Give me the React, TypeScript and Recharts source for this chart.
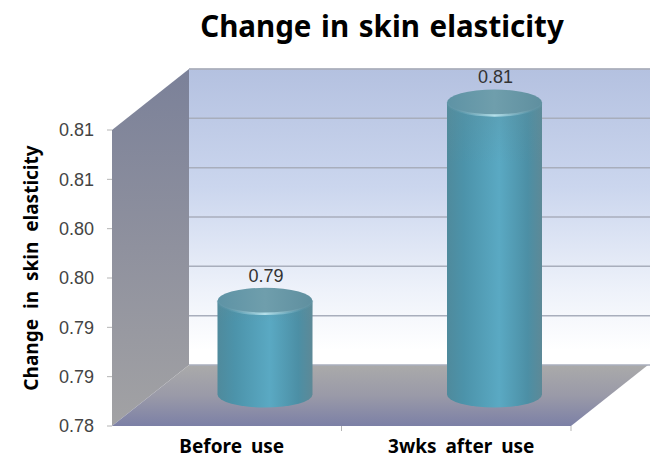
import { Bar, BarChart, CartesianGrid, LabelList, XAxis, YAxis } from 'recharts';

const categories = ['Before use', '3wks after use'];
const elasticity = [0.7896, 0.8097];
const valueLabels = ['0.79', '0.81'];
const yTicks = [0.78, 0.785, 0.79, 0.795, 0.8, 0.805, 0.81];
const yTickLabels = ['0.78', '0.79', '0.79', '0.80', '0.80', '0.81', '0.81'];

const chartData = categories.map((name, i) => ({ name, value: elasticity[i], label: valueLabels[i] }));

const WIDTH = 650;
const HEIGHT = 459;
// front plane of the fake 3D box
const LEFT = 112;
const RIGHT = 571;
const TOP = 130;
const BOTTOM = 426;
// how far the back wall sits from the front plane
const DEPTH_X = 77;
const DEPTH_Y = -61;
const RY = 13;

function Cylinder({ x, y, width, height }: any) {
  // bars stand half way into the box
  const left = x + DEPTH_X / 2;
  const right = left + width;
  const top = y + DEPTH_Y / 2;
  const base = top + height - 1;
  const rx = width / 2;
  const cx = left + rx;
  return (
    <g>
      <path
        d={`M${left},${top} L${left},${base} A${rx},${RY} 0 0 0 ${right},${base} L${right},${top} Z`}
        fill="url(#cylBody)"
      />
      <path
        d={`M${left},${top} L${left},${base} A${rx},${RY} 0 0 0 ${right},${base} L${right},${top} Z`}
        fill="url(#cylShade)"
      />
      <ellipse cx={cx} cy={top} rx={rx} ry={RY} fill="url(#cylTop)" />
      <path d={`M${left},${top} A${rx},${RY} 0 0 0 ${right},${top}`} fill="none" stroke="url(#cylRim)" strokeWidth={2.5} />
    </g>
  );
}

function BarValue({ x, y, width, value }: any) {
  return (
    <text
      x={x + width / 2 + DEPTH_X / 2 + 1}
      y={y + DEPTH_Y / 2 - 19}
      textAnchor="middle"
      fontFamily="Liberation Sans"
      fontSize={18}
      fill="#333"
    >
      {value}
    </text>
  );
}

function backLine({ x1, y1, x2, y2, key }: any) {
  return (
    <line
      key={key}
      x1={x1 + DEPTH_X}
      y1={y1 + DEPTH_Y}
      x2={x2 + DEPTH_X + 2}
      y2={y2 + DEPTH_Y}
      stroke="#a8aebc"
      strokeWidth={1.5}
    />
  );
}

// walls sit in their own svg under the transparent chart
function Box() {
  const backX = LEFT + DEPTH_X;
  const backTop = TOP + DEPTH_Y;
  const backBottom = BOTTOM + DEPTH_Y;
  return (
    <svg width={WIDTH} height={HEIGHT} style={{ position: 'absolute', left: 0, top: 0 }}>
      <defs>
        <linearGradient id="backWall" x1="0" y1="0" x2="0" y2="1">
          <stop offset="0" stopColor="#b4c1e0" />
          <stop offset="0.4" stopColor="#cbd6ee" />
          <stop offset="0.75" stopColor="#eef2fa" />
          <stop offset="0.95" stopColor="#ffffff" />
        </linearGradient>
        <linearGradient id="sideWall" x1="0" y1="0" x2="0" y2="1">
          <stop offset="0" stopColor="#7b8199" />
          <stop offset="0.5" stopColor="#8f919e" />
          <stop offset="1" stopColor="#a2a2a4" />
        </linearGradient>
        <linearGradient id="floor" x1="0" y1="0" x2="0" y2="1">
          <stop offset="0" stopColor="#aaaaaa" />
          <stop offset="0.5" stopColor="#9a9aa8" />
          <stop offset="1" stopColor="#7c80a6" />
        </linearGradient>
      </defs>
      <polygon
        points={`${backX},${backTop} ${WIDTH},${backTop} ${WIDTH},${backBottom} ${backX},${backBottom}`}
        fill="url(#backWall)"
      />
      <line x1={backX} y1={backTop} x2={WIDTH} y2={backTop} stroke="#b0b0b0" />
      <polygon
        points={`${LEFT},${TOP} ${backX},${backTop} ${backX},${backBottom} ${LEFT},${BOTTOM}`}
        fill="url(#sideWall)"
      />
      <polygon
        points={`${LEFT},${BOTTOM} ${backX},${backBottom} ${RIGHT + DEPTH_X},${backBottom} ${RIGHT},${BOTTOM}`}
        fill="url(#floor)"
      />
      <line x1={(LEFT + RIGHT) / 2} y1={BOTTOM} x2={(LEFT + RIGHT) / 2} y2={BOTTOM + 5} stroke="#b5b5b5" />
      <line x1={RIGHT} y1={BOTTOM} x2={RIGHT} y2={BOTTOM + 5} stroke="#b5b5b5" />
    </svg>
  );
}

export default function App() {
  return (
    <div style={{ position: 'absolute', left: 0, top: 0, width: WIDTH, height: HEIGHT }}>
      <Box />
      <div style={{ position: 'absolute', left: 0, top: 0 }}>
        <BarChart
          width={WIDTH}
          height={HEIGHT}
          data={chartData}
          margin={{ top: TOP, right: WIDTH - RIGHT, bottom: 0, left: 52 }}
          barSize={95}
        >
          <defs>
            <linearGradient id="cylBody" x1="0" y1="0" x2="1" y2="0">
              <stop offset="0" stopColor="#4f8a9c" />
              <stop offset="0.18" stopColor="#4c93aa" />
              <stop offset="0.55" stopColor="#5aa9c3" />
              <stop offset="0.85" stopColor="#4c8fa5" />
              <stop offset="1" stopColor="#5d8997" />
            </linearGradient>
            <linearGradient id="cylShade" x1="0" y1="0" x2="0" y2="1">
              <stop offset="0" stopColor="#5e8f9c" stopOpacity={0.35} />
              <stop offset="0.2" stopColor="#5e8f9c" stopOpacity={0} />
            </linearGradient>
            <linearGradient id="cylTop" x1="0" y1="0" x2="1" y2="0">
              <stop offset="0" stopColor="#5e93a5" />
              <stop offset="0.5" stopColor="#6f9eac" />
              <stop offset="1" stopColor="#5f8f9f" />
            </linearGradient>
            <linearGradient id="cylRim" x1="0" y1="0" x2="1" y2="0">
              <stop offset="0.1" stopColor="#7fb5c6" stopOpacity={0.1} />
              <stop offset="0.5" stopColor="#b5e0ea" />
              <stop offset="0.9" stopColor="#7fb5c6" stopOpacity={0.1} />
            </linearGradient>
          </defs>

          <CartesianGrid vertical={false} horizontal={backLine} />

          <XAxis
            dataKey="name"
            axisLine={false}
            tickLine={false}
            height={33}
            tickMargin={8}
            interval={0}
            tick={{
              dx: 5,
              fontFamily: 'Noto Sans',
              fontWeight: 700,
              fontSize: 19,
              fill: '#000',
              style: { wordSpacing: 4 },
            }}
          />
          <YAxis
            domain={[0.78, 0.81]}
            ticks={yTicks}
            width={60}
            axisLine={false}
            tickLine={{ stroke: '#b5b5b5' }}
            tickSize={5}
            tickMargin={13}
            interval={0}
            tickFormatter={(_v: number, i: number) => yTickLabels[i]}
            tick={{ fontFamily: 'Liberation Sans', fontSize: 18, fill: '#444' }}
          />
          <Bar dataKey="value" shape={<Cylinder />} isAnimationActive={false}>
            <LabelList dataKey="label" content={<BarValue />} />
          </Bar>

          <text
            x={382}
            y={37}
            textAnchor="middle"
            fontFamily="Noto Sans"
            fontWeight={700}
            fontSize={29.5}
            wordSpacing={2}
            fill="#000"
          >
            Change in skin elasticity
          </text>
          <text
            transform="translate(38,268) rotate(-90)"
            textAnchor="middle"
            fontFamily="Noto Sans"
            fontWeight={700}
            fontSize={19}
            wordSpacing={5}
            fill="#000"
          >
            Change in skin elasticity
          </text>
        </BarChart>
      </div>
    </div>
  );
}
